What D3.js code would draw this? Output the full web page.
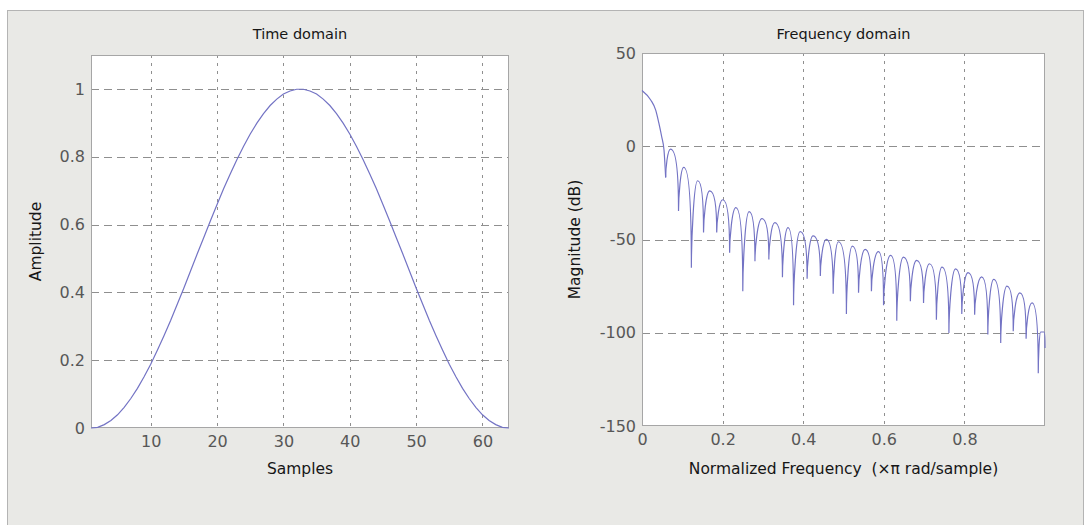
<!DOCTYPE html>
<html>
<head>
<meta charset="utf-8">
<script src="https://cdn.jsdelivr.net/npm/d3@7"></script>
<style>
  body { margin: 0; background: #ffffff; }
  svg text { font-family: 'DejaVu Sans', sans-serif; white-space: pre; }
</style>
</head>
<body>
<div id="chart"></div>
<script>

// time domain: window samples 1..64
var samples = d3.range(1, 65);
var amplitude = [0, 0.002, 0.010, 0.022, 0.039, 0.061, 0.087, 0.117, 0.151, 0.188, 0.229, 0.272,
  0.317, 0.365, 0.413, 0.463, 0.513, 0.562, 0.611, 0.659, 0.706, 0.750, 0.792, 0.831, 0.867, 0.899,
  0.927, 0.951, 0.970, 0.985, 0.994, 0.999, 0.999, 0.994, 0.985, 0.970, 0.951, 0.927, 0.899, 0.867,
  0.831, 0.792, 0.750, 0.706, 0.659, 0.611, 0.562, 0.513, 0.463, 0.413, 0.365, 0.317, 0.272, 0.229,
  0.188, 0.151, 0.117, 0.087, 0.061, 0.039, 0.022, 0.010, 0.002, 0];

// frequency domain: main lobe
var mainFreq = [0, 0.0216, 0.034, 0.042, 0.0489, 0.0546, 0.0587];
var mainDb = [29.9, 24.8, 19.4, 12.3, 5.1, -2.0, -16.7];

// frequency domain: sidelobes, alternating null / peak
var lobeFreq = [0.0587, 0.0707, 0.0906, 0.1035, 0.1225, 0.138, 0.1527, 0.168, 0.1854, 0.2001,
  0.2174, 0.2329, 0.2501, 0.2657, 0.2803, 0.2976, 0.3148, 0.3295, 0.3485, 0.3623, 0.3761, 0.3924,
  0.4097, 0.4244, 0.4425, 0.4571, 0.4744, 0.4873, 0.5072, 0.5218, 0.5373, 0.5537, 0.5693, 0.5865,
  0.5994, 0.6167, 0.6322, 0.6486, 0.6659, 0.6814, 0.6986, 0.7133, 0.7305, 0.7443, 0.7616, 0.7780,
  0.7935, 0.8090, 0.8254, 0.8427, 0.8582, 0.8728, 0.8901, 0.9056, 0.9212, 0.9375, 0.9531, 0.9677,
  0.9833, 0.9893, 0.9979, 1.0];
var lobeDb = [-16.7, -1.5, -34.7, -11.3, -65.2, -18.5, -46.3, -23.9, -46.3, -28.7,
  -57.1, -32.9, -77.7, -35.0, -61.6, -38.8, -60.7, -40.9, -70.2, -43.6, -85.2, -45.8,
  -71.1, -48.1, -69.6, -49.9, -79.1, -51.2, -89.9, -53.5, -78.6, -55.3, -77.7, -56.5,
  -85.2, -58.5, -93.5, -59.4, -83.1, -61.2, -84.0, -63.0, -93.0, -64.8, -100.1, -65.7,
  -89.9, -67.8, -90.3, -70.0, -101.0, -71.4, -105.5, -75.0, -99.2, -78.6, -103.2, -84.0,
  -121.7, -99.6, -99.6, -108.2];

// tick values
var timeXTicks = [10, 20, 30, 40, 50, 60];
var timeYTicks = [0, 0.2, 0.4, 0.6, 0.8, 1];
var freqXTicks = [0, 0.2, 0.4, 0.6, 0.8];
var freqYTicks = [50, 0, -50, -100, -150];

var lineColor = "#7373c4";
var gridColor = "#8f8f8f";

var svg = d3.select('#chart')
  .append('svg')
    .attr('width', 1090)
    .attr('height', 525);

// figure background
svg.append('rect')
  .attr('x', 7.5).attr('y', 10.5)
  .attr('width', 1076).attr('height', 520)
  .attr('fill', '#e9e9e6')
  .attr('stroke', '#b4b4b4');

// sidelobe curve: steep into the nulls, flat over the peaks
function LobeCurve(context) { this._context = context; }
LobeCurve.prototype = {
  areaStart: function() {},
  areaEnd: function() {},
  lineStart: function() { this._point = 0; },
  lineEnd: function() {},
  point: function(x, y) {
    if (this._point === 0) {
      this._point = 1;
      this._context.moveTo(x, y);
    } else {
      var x0 = this._x0, y0 = this._y0, dx = x - x0, dy = y - y0;
      if (dy > 0) {
        this._context.bezierCurveTo(x0 + dx * 0.6, y0, x, y0 + dy * 0.3, x, y);
      } else if (dy < 0) {
        this._context.bezierCurveTo(x0, y0 + dy * 0.3, x - dx * 0.6, y, x, y);
      } else {
        this._context.lineTo(x, y);
      }
    }
    this._x0 = x; this._y0 = y;
  }
};
var curveLobe = function(context) { return new LobeCurve(context); };

// draws box, grid, ticks and labels of one panel
function drawPanel(box, x, y, xTicks, yTicks, title, xLabel, yLabel, yLabelX) {
  var g = svg.append('g');

  g.append('rect')
    .attr('x', box.l).attr('y', box.t)
    .attr('width', box.r - box.l).attr('height', box.b - box.t)
    .attr('fill', '#ffffff');

  // vertical grid
  g.selectAll('.vgrid')
    .data(xTicks.filter(function(d) { return x(d) > box.l + 1; }))
    .enter().append('line')
      .attr('x1', function(d) { return Math.round(x(d)) + 0.5; })
      .attr('x2', function(d) { return Math.round(x(d)) + 0.5; })
      .attr('y1', box.t).attr('y2', box.b)
      .attr('stroke', gridColor)
      .attr('stroke-dasharray', '3,5');

  // horizontal grid
  g.selectAll('.hgrid')
    .data(yTicks.filter(function(d) { return y(d) < box.b - 1; }))
    .enter().append('line')
      .attr('y1', function(d) { return Math.round(y(d)) + 0.5; })
      .attr('y2', function(d) { return Math.round(y(d)) + 0.5; })
      .attr('x1', box.l).attr('x2', box.r)
      .attr('stroke', gridColor)
      .attr('stroke-dasharray', '8,5');

  g.append('rect')
    .attr('x', box.l + 0.5).attr('y', box.t + 0.5)
    .attr('width', box.r - box.l - 1).attr('height', box.b - box.t - 1)
    .attr('fill', 'none')
    .attr('stroke', '#a6a6a6');

  var xAxis = d3.axisBottom(x).tickValues(xTicks).tickSize(0).tickPadding(8)
    .tickFormat(function(d) { return String(d); });
  var yAxis = d3.axisLeft(y).tickValues(yTicks).tickSize(0).tickPadding(6)
    .tickFormat(function(d) { return String(d); });

  g.append('g')
    .attr('transform', 'translate(0,' + box.b + ')')
    .call(xAxis)
    .call(function(a) { a.select('.domain').remove(); })
    .selectAll('text')
      .style('font-size', '16px')
      .attr('fill', '#575757');

  g.append('g')
    .attr('transform', 'translate(' + box.l + ',0)')
    .call(yAxis)
    .call(function(a) { a.select('.domain').remove(); })
    .selectAll('text')
      .style('font-size', '16px')
      .attr('fill', '#575757');

  // title
  g.append('text')
    .attr('x', (box.l + box.r) / 2)
    .attr('y', 39)
    .style('text-anchor', 'middle')
    .style('font-size', '14.5px')
    .attr('fill', '#161616')
    .text(title);

  // x label
  g.append('text')
    .attr('x', (box.l + box.r) / 2)
    .attr('y', 474)
    .style('text-anchor', 'middle')
    .style('font-size', '15.5px')
    .attr('fill', '#161616')
    .text(xLabel);

  // y label
  g.append('text')
    .attr('transform', 'translate(' + yLabelX + ',' + ((box.t + box.b) / 2) + ')rotate(-90)')
    .style('text-anchor', 'middle')
    .style('font-size', '15.5px')
    .attr('fill', '#161616')
    .text(yLabel);

  return g;
}

// time domain panel
var boxT = { l: 91, t: 55, r: 509, b: 428 };
var xT = d3.scaleLinear().domain([1, 64]).range([boxT.l, boxT.r]);
var yT = d3.scaleLinear().domain([0, 1.1]).range([boxT.b, boxT.t]);

var panelT = drawPanel(boxT, xT, yT, timeXTicks, timeYTicks,
  'Time domain', 'Samples', 'Amplitude', 41);

var timeLine = d3.line()
  .x(function(d, i) { return xT(samples[i]); })
  .y(function(d) { return yT(d); });

panelT.append('path')
  .datum(amplitude)
  .attr('d', timeLine)
  .attr('fill', 'none')
  .attr('stroke', lineColor)
  .attr('stroke-width', 1.2);

// frequency domain panel
var boxF = { l: 642, t: 53, r: 1045, b: 426 };
var xF = d3.scaleLinear().domain([0, 1]).range([boxF.l, boxF.r]);
var yF = d3.scaleLinear().domain([-150, 50]).range([boxF.b, boxF.t]);

var panelF = drawPanel(boxF, xF, yF, freqXTicks, freqYTicks,
  'Frequency domain', 'Normalized Frequency  (\u00d7\u03c0 rad/sample)', 'Magnitude (dB)', 580);

var mainLine = d3.line()
  .x(function(d, i) { return xF(mainFreq[i]); })
  .y(function(d) { return yF(d); })
  .curve(d3.curveMonotoneX);

panelF.append('path')
  .datum(mainDb)
  .attr('d', mainLine)
  .attr('fill', 'none')
  .attr('stroke', lineColor)
  .attr('stroke-width', 1.2);

var lobeLine = d3.line()
  .x(function(d, i) { return xF(lobeFreq[i]); })
  .y(function(d) { return yF(d); })
  .curve(curveLobe);

panelF.append('path')
  .datum(lobeDb)
  .attr('d', lobeLine)
  .attr('fill', 'none')
  .attr('stroke', lineColor)
  .attr('stroke-width', 1.2);

</script>
</body>
</html>
